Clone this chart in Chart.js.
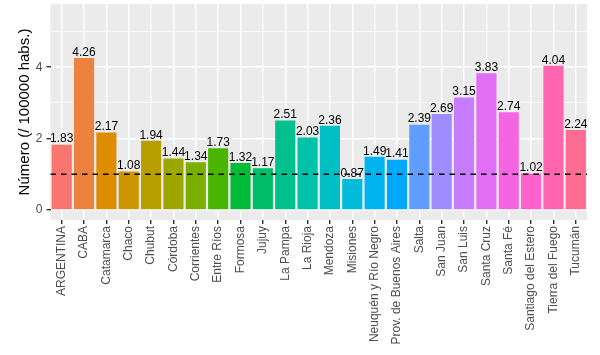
<!DOCTYPE html>
<html>
<head>
<meta charset="utf-8">
<script src="https://cdn.jsdelivr.net/npm/chart.js@4/dist/chart.umd.min.js"></script>
<style>
  html, body { margin: 0; padding: 0; background: #ffffff; }
  #wrap { width: 600px; height: 355px; position: relative; }
</style>
</head>
<body>
<div id="wrap"><canvas id="c" width="600" height="355"></canvas></div>
<script>
// ---- data ----
const categories = ["ARGENTINA", "CABA", "Catamarca", "Chaco", "Chubut", "Córdoba", "Corrientes",
  "Entre Ríos", "Formosa", "Jujuy", "La Pampa", "La Rioja", "Mendoza", "Misiones",
  "Neuquén y Río Negro", "Prov. de Buenos Aires", "Salta", "San Juan", "San Luis",
  "Santa Cruz", "Santa Fé", "Santiago del Estero", "Tierra del Fuego", "Tucumán"];
const values = [1.83, 4.26, 2.17, 1.08, 1.94, 1.44, 1.34, 1.73, 1.32, 1.17, 2.51, 2.03,
  2.36, 0.87, 1.49, 1.41, 2.39, 2.69, 3.15, 3.83, 2.74, 1.02, 4.04, 2.24];
const yTicks = [0, 1, 2, 3, 4, 5];
const yTickLabels = ["0", "", "2", "", "4", ""];
const refLine = 1;
const yTitle = "Número (/ 100000 habs.)";

// ---- ggplot-like hue palette (style only) ----
function hcl2hex(h, c, l) {
  const Xn = 95.047, Yn = 100.0, Zn = 108.883;
  const hr = h * Math.PI / 180;
  const U = c * Math.cos(hr), V = c * Math.sin(hr);
  let Y = l > 8 ? Yn * Math.pow((l + 16) / 116, 3) : Yn * l / 903.3;
  const t = Xn + Yn + Zn;
  const x = Xn / t, y = Yn / t;
  const un = 2 * x / (6 * y - x + 1.5), vn = 4.5 * y / (6 * y - x + 1.5);
  const u = U / (13 * l) + un, v = V / (13 * l) + vn;
  const X = 9.0 * Y * u / (4 * v);
  const Z = -X / 3 - 5 * Y + 3 * Y / v;
  const g = (q) => q > 0.00304 ? 1.055 * Math.pow(q, 1 / 2.4) - 0.055 : 12.92 * q;
  let r = g((3.240479 * X - 1.537150 * Y - 0.498535 * Z) / Yn);
  let gg = g((-0.969256 * X + 1.875992 * Y + 0.041556 * Z) / Yn);
  let b = g((0.055648 * X - 0.204043 * Y + 1.057311 * Z) / Yn);
  const h2 = (q) => { q = Math.round(Math.min(1, Math.max(0, q)) * 255); return q.toString(16).padStart(2, '0'); };
  return '#' + h2(r) + h2(gg) + h2(b);
}
const n = categories.length;
const colors = categories.map((_, i) => hcl2hex(15 + 360 * i / n, 100, 65));

const FONT = "'Liberation Sans', Arial, Helvetica, sans-serif";

const panelBg = {
  id: 'panelBg',
  beforeDraw(chart) {
    const { ctx, chartArea: a } = chart;
    ctx.save();
    ctx.fillStyle = '#EBEBEB';
    ctx.fillRect(a.left, a.top, a.right - a.left, a.bottom - a.top);
    ctx.restore();
  }
};

const overlay = {
  id: 'overlay',
  afterDatasetsDraw(chart) {
    const { ctx, chartArea: a, scales } = chart;
    const yp = scales.y.getPixelForValue(refLine);
    ctx.save();
    ctx.strokeStyle = '#000000';
    ctx.lineWidth = 1.4;
    ctx.setLineDash([5.5, 5]);
    ctx.beginPath();
    ctx.moveTo(a.left, yp);
    ctx.lineTo(a.right, yp);
    ctx.stroke();
    ctx.setLineDash([]);
    // value labels
    const meta = chart.getDatasetMeta(0);
    ctx.fillStyle = '#000000';
    ctx.font = '12px ' + FONT;
    ctx.textAlign = 'center';
    ctx.textBaseline = 'bottom';
    meta.data.forEach((bar, i) => {
      ctx.fillText(values[i].toFixed(2), bar.x, bar.y + 0.5);
    });
    ctx.restore();
  }
};

new Chart(document.getElementById('c'), {
  type: 'bar',
  data: {
    labels: categories,
    datasets: [{
      data: values,
      backgroundColor: colors,
      borderWidth: 0,
      barPercentage: 0.9,
      categoryPercentage: 1.0
    }]
  },
  options: {
    responsive: false,
    animation: false,
    devicePixelRatio: 1,
    layout: { padding: { top: 4, right: 13, left: 0, bottom: 0 } },
    plugins: { legend: { display: false }, tooltip: { enabled: false } },
    scales: {
      x: {
        offset: true,
        grid: {
          offset: false,
          color: '#FFFFFF',
          lineWidth: 1.4,
          tickColor: '#333333',
          tickLength: 4,
          drawOnChartArea: true
        },
        border: { display: false },
        ticks: {
          autoSkip: false,
          maxRotation: 90,
          minRotation: 90,
          padding: 2,
          color: '#4D4D4D',
          font: { family: FONT, size: 12 }
        },
        afterFit(scale) {
          scale.height = 135;
          scale.paddingLeft = 0; scale.paddingRight = 0;
        }
      },
      y: {
        min: -0.28,
        max: 5.77,
        afterBuildTicks(scale) { scale.ticks = yTicks.map(v => ({ value: v })); },
        grid: {
          color: '#FFFFFF',
          lineWidth: (ctx) => (ctx.tick && yTicks.indexOf(ctx.tick.value) % 2 === 1) ? 0.7 : 1.4,
          tickColor: (ctx) => (ctx.tick && yTicks.indexOf(ctx.tick.value) % 2 === 1) ? 'rgba(0,0,0,0)' : '#333333',
          tickLength: 4
        },
        border: { display: false },
        ticks: {
          padding: 4,
          color: '#4D4D4D',
          font: { family: FONT, size: 12 },
          callback: (v, i) => yTickLabels[i]
        },
        title: {
          display: true,
          text: yTitle,
          color: '#000000',
          font: { family: FONT, size: 15 },
          padding: { top: 16, bottom: 0 }
        },
        afterFit(scale) {
          scale.width = 50.5;
          scale.paddingTop = 0; scale.paddingBottom = 0;
        }
      }
    }
  },
  plugins: [panelBg, overlay]
});
</script>
</body>
</html>
